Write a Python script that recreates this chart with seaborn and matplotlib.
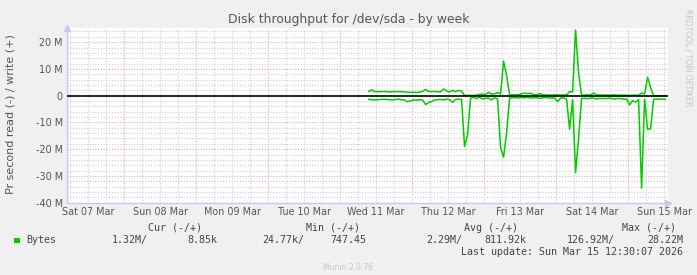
import numpy as np
import pandas as pd
import matplotlib
matplotlib.use("Agg")
import matplotlib.pyplot as plt
import seaborn as sns

# ---- data (hours since Sat 07 Mar 00:00, bytes/s in millions) ----
start_hour = 105.5
n_points = 100
hours = [start_hour + i for i in range(n_points)]

write_M = [1.5, 2.2, 1.5, 1.5, 1.5, 1.6, 1.5, 1.4, 1.5, 1.5,
           1.5, 1.5, 1.4, 1.3, 1.2, 1.3, 1.2, 1.3, 1.6, 2.3,
           1.6, 1.5, 1.6, 1.5, 1.4, 2.5, 1.8, 1.4, 2.0, 1.5,
           2.0, 1.7, 0.1, 0.1, 0.1, 0.1, 0.2, 0.5, 0.6, 0.5,
           1.3, 0.6, 0.7, 1.2, 0.6, 12.9, 7.7, 0.3, 0.3, 0.4,
           0.3, 0.8, 0.9, 0.8, 0.9, 0.4, 0.3, 0.8, 0.3, 0.3,
           0.3, 0.2, 0.3, 0.3, 0.2, 0.3, 0.3, 1.5, 1.4, 24.5,
           8.3, 0.2, 0.2, 0.3, 0.3, 1.0, 0.3, 0.2, 0.2, 0.3,
           0.2, 0.2, 0.3, 0.2, 0.2, 0.2, 0.2, 0.1, 0.2, 0.2,
           0.2, 1.0, 0.6, 6.9, 3.0, 0.0, 0.0, 0.0, 0.0, 0.0]

read_M = [1.35, 1.5, 1.6, 1.5, 1.4, 1.3, 1.4, 1.5, 1.6, 1.4,
          1.3, 1.5, 1.6, 2.3, 1.9, 1.6, 1.7, 1.5, 1.6, 3.3,
          2.6, 2.2, 1.6, 1.5, 1.4, 1.6, 1.3, 1.5, 2.5, 1.4,
          1.3, 1.4, 19.0, 14.7, 0.9, 0.6, 1.1, 0.5, 1.2, 1.0,
          0.9, 1.6, 0.8, 1.2, 19.4, 23.0, 14.0, 0.8, 0.8, 0.7,
          0.9, 0.7, 0.8, 0.6, 0.9, 0.8, 0.7, 1.0, 0.8, 0.7,
          0.8, 0.9, 0.8, 2.2, 0.9, 0.8, 1.3, 12.5, 1.5, 28.7,
          15.9, 1.0, 1.0, 1.1, 0.9, 0.9, 1.2, 1.0, 1.0, 1.1,
          0.9, 1.0, 1.3, 1.0, 1.1, 1.3, 1.2, 3.5, 1.8, 2.4,
          1.5, 34.5, 1.3, 12.5, 12.4, 1.3, 1.3, 1.3, 1.3, 1.3]

day_labels = ["Sat 07 Mar", "Sun 08 Mar", "Mon 09 Mar", "Tue 10 Mar",
              "Wed 11 Mar", "Thu 12 Mar", "Fri 13 Mar", "Sat 14 Mar", "Sun 15 Mar"]
y_ticks_M = [-40, -30, -20, -10, 0, 10, 20]
y_tick_labels = ["-40 M", "-30 M", "-20 M", "-10 M", "0", "10 M", "20 M"]

legend_headers = ["Cur (-/+)", "Min (-/+)", "Avg (-/+)", "Max (-/+)"]
legend_values = ["1.32M/", "8.85k", "24.77k/", "747.45",
                 "2.29M/", "811.92k", "126.92M/", "28.22M"]

# ---- build frame ----
df = pd.DataFrame({
    "hour": hours * 2,
    "bytes": [w * 1e6 for w in write_M] + [-r * 1e6 for r in read_M],
    "series": ["write"] * n_points + ["read"] * n_points,
})

sns.set_style("white")
plt.rcParams["font.family"] = ["DejaVu Sans"]

W, H = 697, 275
fig = plt.figure(figsize=(W / 100, H / 100), dpi=100, facecolor="#f0f0f0")
left_px, right_px, top_px, bottom_px = 67, 668, 28, 202.7
ax = fig.add_axes([left_px / W, 1 - bottom_px / H,
                   (right_px - left_px) / W, (bottom_px - top_px) / H])
ax.set_facecolor("white")

x_min, x_max = 5.0, 205.3
y_min, y_max = -40e6, 25.3e6

# grid lines
minor_col = "#cfcfcf"
major_col = "#eba5a5"
for h in np.arange(6, x_max, 6):
    if h % 24 == 0:
        continue
    ax.axvline(h, color=minor_col, lw=0.8, ls=(0, (1, 1.5)), zorder=0)
for h in np.arange(24, x_max, 24):
    ax.axvline(h, color=major_col, lw=0.8, ls=(0, (1, 1.5)), zorder=0)
for v in np.arange(-40, 26, 2):
    if v % 10 == 0:
        continue
    ax.axhline(v * 1e6, color=minor_col, lw=0.8, ls=(0, (1, 1.5)), zorder=0)
for v in y_ticks_M:
    if v == 0:
        continue
    ax.axhline(v * 1e6, color=major_col, lw=0.8, ls=(0, (1, 1.5)), zorder=0)

sns.lineplot(data=df, x="hour", y="bytes", hue="series",
             palette={"write": "#00cc00", "read": "#00cc00"},
             estimator=None, sort=False, legend=False, linewidth=1.1,
             ax=ax, zorder=3)
ax.axhline(0, color="black", lw=1.2, zorder=4)

ax.set_xlim(x_min, x_max)
ax.set_ylim(y_min, y_max)
ax.set_xticks([12 + 24 * i for i in range(len(day_labels))])
ax.set_xticklabels(day_labels)
ax.set_yticks([v * 1e6 for v in y_ticks_M])
ax.set_yticklabels(y_tick_labels)
ax.tick_params(axis="both", labelsize=6.9, colors="#555555", length=0, pad=3)
ax.set_xlabel("")
ax.set_ylabel("")
for s in ["top", "right"]:
    ax.spines[s].set_visible(False)
ax.spines["left"].set_color("#c8c8f0")
ax.spines["bottom"].set_color("#c8c8f0")
ax.spines["left"].set_linewidth(1)
ax.spines["bottom"].set_linewidth(1)

# axis arrows
ax.plot([0], [1.0], marker="^", color="#c8c8f0", markersize=4,
        transform=ax.transAxes, clip_on=False)
ax.plot([1.0], [0], marker=">", color="#c8c8f0", markersize=4,
        transform=ax.transAxes, clip_on=False)

def px(x, y):
    return x / W, 1 - y / H

fig.text(*px(348.5, 19), "Disk throughput for /dev/sda - by week",
         ha="center", va="center", fontsize=8.9, color="#555555")
fig.text(*px(11, 114), "Pr second read (-) / write (+)", rotation=90,
         ha="center", va="center", fontsize=8.0, color="#555555")
fig.text(*px(688, 58), "RRDTOOL / TOBI OETIKER", rotation=270,
         ha="center", va="center", fontsize=5.5, color="#c4c4c4")

mono = dict(family="DejaVu Sans Mono", fontsize=7.2, color="#444444", va="center")
header_x = [175, 333, 491, 649]
for hx, t in zip(header_x, legend_headers):
    fig.text(*px(hx, 228), t, ha="center", **mono)
fig.patches.append(matplotlib.patches.Rectangle(
    (14 / W, 1 - 243 / H), 5.5 / W, 5.5 / H, transform=fig.transFigure,
    facecolor="#00cc00", edgecolor="none"))
fig.text(*px(26, 240), "Bytes", ha="left", **mono)
val_right_x = [148, 217, 304, 366, 462, 526, 615, 683]
for vx, t in zip(val_right_x, legend_values):
    fig.text(*px(vx, 240), t, ha="right", **mono)
fig.text(*px(683, 252), "Last update: Sun Mar 15 12:30:07 2026", ha="right", **mono)
fig.text(*px(348, 268), "Munin 2.0.76", ha="center", va="center",
         fontsize=5.5, color="#c8c8c8")

fig.savefig("out.png", dpi=100, facecolor=fig.get_facecolor())
